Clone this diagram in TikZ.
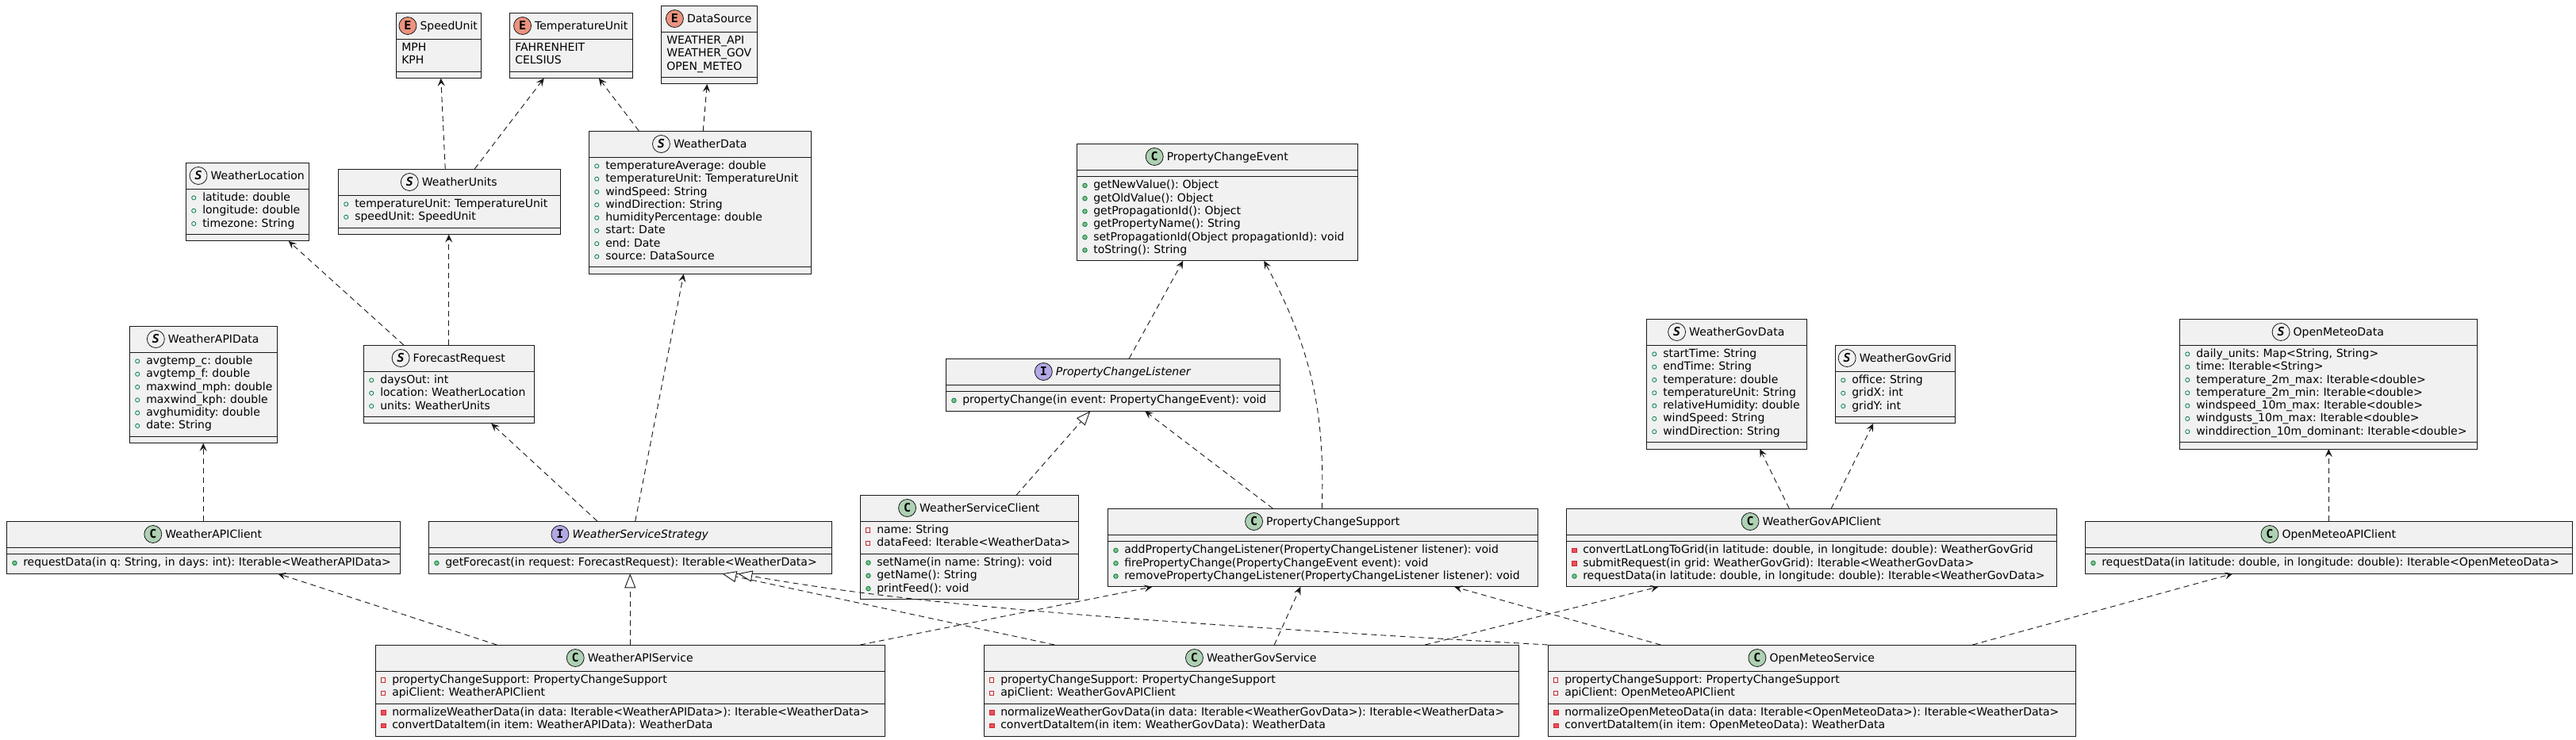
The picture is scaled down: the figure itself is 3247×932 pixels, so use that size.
\documentclass[tikz,border=0pt]{standalone}
\usepackage{fontspec}
\setmainfont{DejaVu Sans}
\setmonofont{DejaVu Sans Mono}
\usetikzlibrary{shapes.multipart,arrows.meta,positioning}
\frenchspacing

\definecolor{umlbg}{HTML}{F1F1F1}
\definecolor{umlline}{HTML}{181818}
\definecolor{spotc}{HTML}{ADD1B2}
\definecolor{spoti}{HTML}{B4A7E5}
\definecolor{spote}{HTML}{EB937F}
\definecolor{spots}{HTML}{F1F1F1}
\definecolor{visg}{HTML}{038048}
\definecolor{visgf}{HTML}{84BE84}
\definecolor{visr}{HTML}{C82930}
\definecolor{visrf}{HTML}{F24D5C}

% marcas de visibilidad
\newcommand{\mkbox}[1]{\makebox[16pt][l]{\hspace{2pt}\tikz[baseline=-4pt]{#1}}}
\newcommand{\fpub}{\mkbox{\draw[visg, line width=0.8pt, solid] (0,0) circle (2.6pt);}}
\newcommand{\mpub}{\mkbox{\draw[visg, fill=visgf, line width=0.8pt, solid] (0,0) circle (2.8pt);}}
\newcommand{\fpriv}{\mkbox{\draw[visr, line width=0.8pt, solid] (-2.6pt,-2.6pt) rectangle (2.6pt,2.6pt);}}
\newcommand{\mpriv}{\mkbox{\draw[visr, fill=visrf, line width=0.8pt, solid] (-2.8pt,-2.8pt) rectangle (2.8pt,2.8pt);}}
\newcommand{\enone}{\hspace{2pt}}
\newcommand{\urow}[2]{\mbox{\strut#1#2}\par}
\newcommand{\uhead}{\rule[-7pt]{0pt}{24pt}}
% cabecera: nombre, color, letra, titulo
\newcommand{\utitle}[4]{%
  \node[ctitle] (#1t) at ([xshift=13pt, yshift=-21pt]#1.north) {#4};
  \node[spot, fill=#2, left=4pt of #1t] (#1s) {#3};}

\begin{document}
\begin{tikzpicture}[
  x=1pt, y=-1pt,
  umlclass/.style={rectangle split, rectangle split parts=3, draw=umlline, line width=0.5pt,
    fill=umlbg, inner xsep=5pt, inner ysep=4pt, anchor=north west, align=left,
    font=\fontsize{14pt}{16.3pt}\selectfont},
  ctitle/.style={anchor=base, inner sep=0pt, text height=11pt, text depth=2pt,
    font=\fontsize{14pt}{16.3pt}\selectfont},
  spot/.style={circle, draw=umlline, line width=0.8pt, minimum size=22pt, inner sep=0pt,
    font=\fontsize{15pt}{15pt}\ttfamily\bfseries},
  dep/.style={draw=umlline, line width=0.9pt, dash pattern=on 7pt off 5pt,
    -{Stealth[length=10pt, width=9pt, inset=4pt]}},
  real/.style={draw=umlline, line width=0.9pt, dash pattern=on 7pt off 5pt,
    -{Triangle[open, length=18pt, width=14pt, fill=white]}}
]
  \useasboundingbox (0,0) rectangle (3247,932);

  % Enumeraciones
  \node[umlclass, text width=97pt] (su) at (499,16)
    {\uhead\nodepart{two}\urow\enone{MPH}\urow\enone{KPH}\nodepart{three}};
  \node[umlclass, text width=145pt] (tu) at (642,16)
    {\uhead\nodepart{two}\urow\enone{FAHRENHEIT}\urow\enone{CELSIUS}\nodepart{three}};
  \node[umlclass, text width=111pt] (ds) at (833,7)
    {\uhead\nodepart{two}\urow\enone{WEATHER\_API}\urow\enone{WEATHER\_GOV}\urow\enone{OPEN\_METEO}\nodepart{three}};
  \utitle{su}{spote}{E}{SpeedUnit}
  \utitle{tu}{spote}{E}{TemperatureUnit}
  \utitle{ds}{spote}{E}{DataSource}

  % Estructuras
  \node[umlclass, text width=145pt] (wl) at (234,205)
    {\uhead\nodepart{two}\urow\fpub{latitude: double}\urow\fpub{longitude: double}\urow\fpub{timezone: String}\nodepart{three}};
  \node[umlclass, text width=270pt] (wu) at (426,213)
    {\uhead\nodepart{two}\urow\fpub{temperatureUnit: TemperatureUnit}\urow\fpub{speedUnit: SpeedUnit}\nodepart{three}};
  \node[umlclass, text width=270pt] (wd) at (742,165)
    {\uhead\nodepart{two}\urow\fpub{temperatureAverage: double}\urow\fpub{temperatureUnit: TemperatureUnit}\urow\fpub{windSpeed: String}\urow\fpub{windDirection: String}\urow\fpub{humidityPercentage: double}\urow\fpub{start: Date}\urow\fpub{end: Date}\urow\fpub{source: DataSource}\nodepart{three}};
  \node[umlclass, text width=176pt] (wad) at (163,411)
    {\uhead\nodepart{two}\urow\fpub{avgtemp\_c: double}\urow\fpub{avgtemp\_f: double}\urow\fpub{maxwind\_mph: double}\urow\fpub{maxwind\_kph: double}\urow\fpub{avghumidity: double}\urow\fpub{date: String}\nodepart{three}};
  \node[umlclass, text width=205pt] (fr) at (458,435)
    {\uhead\nodepart{two}\urow\fpub{daysOut: int}\urow\fpub{location: WeatherLocation}\urow\fpub{units: WeatherUnits}\nodepart{three}};
  \node[umlclass, text width=192pt] (wgd) at (2075,402)
    {\uhead\nodepart{two}\urow\fpub{startTime: String}\urow\fpub{endTime: String}\urow\fpub{temperature: double}\urow\fpub{temperatureUnit: String}\urow\fpub{relativeHumidity: double}\urow\fpub{windSpeed: String}\urow\fpub{windDirection: String}\nodepart{three}};
  \node[umlclass, text width=141pt] (wgg) at (2313,435)
    {\uhead\nodepart{two}\urow\fpub{office: String}\urow\fpub{gridX: int}\urow\fpub{gridY: int}\nodepart{three}};
  \node[umlclass, text width=365pt] (omd) at (2747,402)
    {\uhead\nodepart{two}\urow\fpub{daily\_units: Map<String, String>}\urow\fpub{time: Iterable<String>}\urow\fpub{temperature\_2m\_max: Iterable<double>}\urow\fpub{temperature\_2m\_min: Iterable<double>}\urow\fpub{windspeed\_10m\_max: Iterable<double>}\urow\fpub{windgusts\_10m\_max: Iterable<double>}\urow\fpub{winddirection\_10m\_dominant: Iterable<double>}\nodepart{three}};
  \utitle{wl}{spots}{\itshape S}{WeatherLocation}
  \utitle{wu}{spots}{\itshape S}{WeatherUnits}
  \utitle{wd}{spots}{\itshape S}{WeatherData}
  \utitle{wad}{spots}{\itshape S}{WeatherAPIData}
  \utitle{fr}{spots}{\itshape S}{ForecastRequest}
  \utitle{wgd}{spots}{\itshape S}{WeatherGovData}
  \utitle{wgg}{spots}{\itshape S}{WeatherGovGrid}
  \utitle{omd}{spots}{\itshape S}{OpenMeteoData}

  % Clases e interfaces
  \node[umlclass, text width=344pt] (pce) at (1357,181)
    {\uhead\nodepart{two}\nodepart{three}\urow\mpub{getNewValue(): Object}\urow\mpub{getOldValue(): Object}\urow\mpub{getPropagationId(): Object}\urow\mpub{getPropertyName(): String}\urow\mpub{setPropagationId(Object propagationId): void}\urow\mpub{toString(): String}};
  \node[umlclass, text width=411pt] (pcl) at (1192,452)
    {\uhead\nodepart{two}\nodepart{three}\urow\mpub{propertyChange(in event: PropertyChangeEvent): void}};
  \node[umlclass, text width=486pt] (wac) at (8,657)
    {\uhead\nodepart{two}\nodepart{three}\urow\mpub{requestData(in q: String, in days: int): Iterable<WeatherAPIData>}};
  \node[umlclass, text width=498pt] (wss) at (540,657)
    {\uhead\nodepart{two}\nodepart{three}\urow\mpub{getForecast(in request: ForecastRequest): Iterable<WeatherData>}};
  \node[umlclass, text width=265pt] (wsc) at (1084,624)
    {\uhead\nodepart{two}\urow\fpriv{name: String}\urow\fpriv{dataFeed: Iterable<WeatherData>}\nodepart{three}\urow\mpub{setName(in name: String): void}\urow\mpub{getName(): String}\urow\mpub{printFeed(): void}};
  \node[umlclass, text width=532pt] (pcs) at (1396,641)
    {\uhead\nodepart{two}\nodepart{three}\urow\mpub{addPropertyChangeListener(PropertyChangeListener listener): void}\urow\mpub{firePropertyChange(PropertyChangeEvent event): void}\urow\mpub{removePropertyChangeListener(PropertyChangeListener listener): void}};
  \node[umlclass, text width=608pt] (wgac) at (1974,641)
    {\uhead\nodepart{two}\nodepart{three}\urow\mpriv{convertLatLongToGrid(in latitude: double, in longitude: double): WeatherGovGrid}\urow\mpriv{submitRequest(in grid: WeatherGovGrid): Iterable<WeatherGovData>}\urow\mpub{requestData(in latitude: double, in longitude: double): Iterable<WeatherGovData>}};
  \node[umlclass, text width=604pt] (omac) at (2628,657)
    {\uhead\nodepart{two}\nodepart{three}\urow\mpub{requestData(in latitude: double, in longitude: double): Iterable<OpenMeteoData>}};
  \utitle{pce}{spotc}{C}{PropertyChangeEvent}
  \utitle{pcl}{spoti}{I}{\itshape PropertyChangeListener}
  \utitle{wac}{spotc}{C}{WeatherAPIClient}
  \utitle{wss}{spoti}{I}{\itshape WeatherServiceStrategy}
  \utitle{wsc}{spotc}{C}{WeatherServiceClient}
  \utitle{pcs}{spotc}{C}{PropertyChangeSupport}
  \utitle{wgac}{spotc}{C}{WeatherGovAPIClient}
  \utitle{omac}{spotc}{C}{OpenMeteoAPIClient}

  % Servicios
  \node[umlclass, text width=632pt] (was) at (473,813)
    {\uhead\nodepart{two}\urow\fpriv{propertyChangeSupport: PropertyChangeSupport}\urow\fpriv{apiClient: WeatherAPIClient}\nodepart{three}\urow\mpriv{normalizeWeatherData(in data: Iterable<WeatherAPIData>): Iterable<WeatherData>}\urow\mpriv{convertDataItem(in item: WeatherAPIData): WeatherData}};
  \node[umlclass, text width=664pt] (wgs) at (1240,813)
    {\uhead\nodepart{two}\urow\fpriv{propertyChangeSupport: PropertyChangeSupport}\urow\fpriv{apiClient: WeatherGovAPIClient}\nodepart{three}\urow\mpriv{normalizeWeatherGovData(in data: Iterable<WeatherGovData>): Iterable<WeatherData>}\urow\mpriv{convertDataItem(in item: WeatherGovData): WeatherData}};
  \node[umlclass, text width=655pt] (oms) at (1951,813)
    {\uhead\nodepart{two}\urow\fpriv{propertyChangeSupport: PropertyChangeSupport}\urow\fpriv{apiClient: OpenMeteoAPIClient}\nodepart{three}\urow\mpriv{normalizeOpenMeteoData(in data: Iterable<OpenMeteoData>): Iterable<WeatherData>}\urow\mpriv{convertDataItem(in item: OpenMeteoData): WeatherData}};
  \utitle{was}{spotc}{C}{WeatherAPIService}
  \utitle{wgs}{spotc}{C}{WeatherGovService}
  \utitle{oms}{spotc}{C}{OpenMeteoService}

  % Dependencias
  \draw[dep] ([xshift=-5pt]wu.north) -- ([xshift=3pt]su.south);
  \draw[dep] ([xshift=32pt]wu.north) -- ([xshift=-34pt]tu.south);
  \draw[dep] ([xshift=-77pt]wd.north) -- ([xshift=35pt]tu.south);
  \draw[dep] ([xshift=4pt]wd.north) -- ([xshift=-2.5pt]ds.south);
  \draw[dep] ([xshift=-57pt]fr.north) -- ([xshift=52pt]wl.south);
  \draw[dep] (fr.north) -- (fr.north |- wu.south);
  \draw[dep] ([xshift=-41.5pt]wss.north) -- ([xshift=53.5pt]fr.south);
  \draw[dep] ([xshift=6.5pt]wss.north) -- ([xshift=-20.5pt]wd.south);
  \draw[dep] (wac.north) -- (wac.north |- wad.south);
  \draw[dep] ([xshift=-168pt]was.north) -- ([xshift=94pt]wac.south);
  \draw[dep] ([xshift=290pt]was.north) -- ([xshift=-215pt]pcs.south);
  \draw[dep] ([xshift=29pt]wgs.north) -- ([xshift=-28pt]pcs.south);
  \draw[dep] ([xshift=-190.5pt]oms.north) -- ([xshift=166pt]pcs.south);
  \draw[dep] ([xshift=219pt]wgs.north) -- ([xshift=-193pt]wgac.south);
  \draw[dep] ([xshift=202.5pt]oms.north) -- ([xshift=-121pt]omac.south);
  \draw[dep] ([xshift=-28pt]wgac.north) -- ([xshift=42pt]wgd.south);
  \draw[dep] ([xshift=25pt]wgac.north) -- ([xshift=-27.5pt]wgg.south);
  \draw[dep] (omac.north) -- (omac.north |- omd.south);
  \draw[dep] ([xshift=20.5pt]pcl.north) -- ([xshift=-43pt]pce.south);
  \draw[dep] ([xshift=-1pt]pcs.north) to[bend right=15] ([xshift=59pt]pce.south);
  \draw[dep] ([xshift=-63pt]pcs.north) -- ([xshift=40.5pt]pcl.south);

  % Realizaciones
  \draw[real] (was.north) -- (wss.south);
  \draw[real] ([xshift=-248pt]wgs.north) -- ([xshift=116pt]wss.south);
  \draw[real] (oms.north west) .. controls (1400,782) and (1150,762) .. ([xshift=136pt]wss.south);
  \draw[real] ([xshift=59.5pt]wsc.north) -- ([xshift=-28.5pt]pcl.south);
\end{tikzpicture}
\end{document}
